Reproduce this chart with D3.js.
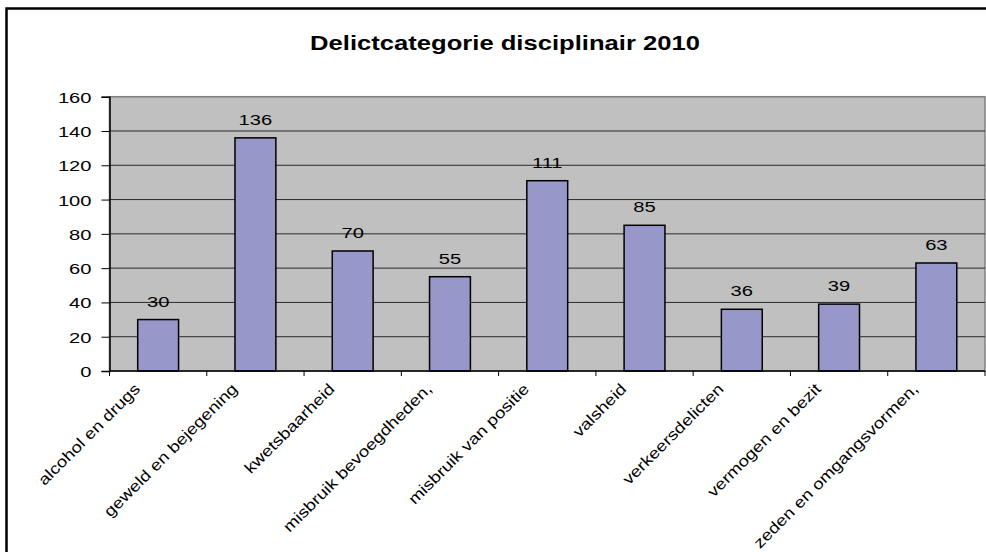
<!DOCTYPE html>
<html>
<head>
<meta charset="utf-8">
<script src="https://cdn.jsdelivr.net/npm/d3@7"></script>
<style>
    body { margin: 0; background: #fff; }
    text { font-family: "Liberation Sans", Arial, sans-serif; fill: #000; }
</style>
</head>
<body>
<div id="chart"></div>
<script>
// chart data
const categories = [
    "alcohol en drugs",
    "geweld en bejegening",
    "kwetsbaarheid",
    "misbruik bevoegdheden,",
    "misbruik van positie",
    "valsheid",
    "verkeersdelicten",
    "vermogen en bezit",
    "zeden en omgangsvormen,"
];
const values = [30, 136, 70, 55, 111, 85, 36, 39, 63];
const yTicks = [0, 20, 40, 60, 80, 100, 120, 140, 160];
const title = "Delictcategorie disciplinair 2010";

// the source picture is stretched sideways, so text is widened
const stretch = 1.3;
const labelStretch = 1.2;

const W = 986, H = 552;
const plot = {left: 109.5, right: 985, top: 96.7, bottom: 371};

const svg = d3.select("#chart")
    .append("svg")
    .attr("width", W)
    .attr("height", H);

// outer chart border (right and bottom fall off the picture)
svg.append("rect")
    .attr("x", 6.5)
    .attr("y", 8.5)
    .attr("width", W + 20)
    .attr("height", H + 20)
    .attr("fill", "#fff")
    .attr("stroke", "#000")
    .attr("stroke-width", 2.5);

// scales
const x = d3.scaleBand()
    .domain(categories)
    .range([plot.left, plot.right])
    .paddingInner(0.58)
    .paddingOuter(0.29);

const xEdges = d3.scaleLinear()
    .domain([0, categories.length])
    .range([plot.left, plot.right]);

const y = d3.scaleLinear()
    .domain([0, 160])
    .range([plot.bottom, plot.top]);

// plot area
svg.append("rect")
    .attr("x", plot.left)
    .attr("y", plot.top)
    .attr("width", plot.right - plot.left)
    .attr("height", plot.bottom - plot.top)
    .attr("fill", "#c0c0c0")
    .attr("stroke", "#808080")
    .attr("stroke-width", 1.5);

// gridlines
svg.append("g")
    .selectAll("line")
    .data(yTicks.slice(1))
    .enter()
    .append("line")
    .attr("x1", plot.left)
    .attr("x2", plot.right)
    .attr("y1", d => y(d))
    .attr("y2", d => y(d))
    .attr("stroke", d => d === 160 ? "#808080" : "#2a2a2a")
    .attr("stroke-width", 1);

// bars
svg.append("g")
    .selectAll("rect")
    .data(values)
    .enter()
    .append("rect")
    .attr("x", (d, i) => x(categories[i]))
    .attr("y", d => y(d))
    .attr("width", x.bandwidth())
    .attr("height", d => y(0) - y(d))
    .attr("fill", "#9797ca")
    .attr("stroke", "#000")
    .attr("stroke-width", 1.5);

// value labels
svg.append("g")
    .selectAll("text")
    .data(values)
    .enter()
    .append("text")
    .attr("transform", (d, i) =>
        `translate(${x(categories[i]) + x.bandwidth() / 2},${y(d) - 13}) scale(${stretch},1)`)
    .attr("text-anchor", "middle")
    .style("font-size", "15.5px")
    .text(d => d);

// y axis
const yAxis = svg.append("g")
    .attr("transform", `translate(${plot.left},0)`)
    .call(d3.axisLeft(y).tickValues(yTicks).tickSize(8).tickPadding(0).tickFormat(d3.format("d")));
yAxis.select(".domain").attr("stroke", "#000").attr("stroke-width", 1.5);
yAxis.selectAll(".tick line").attr("stroke", "#000");
yAxis.selectAll(".tick text")
    .attr("x", null)
    .attr("dy", null)
    .attr("transform", `translate(-18,5.5) scale(${stretch},1)`)
    .style("font-size", "15.5px")
    .attr("text-anchor", "end");

// x axis: ticks at category edges
svg.append("line")
    .attr("x1", plot.left)
    .attr("x2", plot.right)
    .attr("y1", plot.bottom)
    .attr("y2", plot.bottom)
    .attr("stroke", "#000")
    .attr("stroke-width", 1.5);

svg.append("g")
    .selectAll("line")
    .data(d3.range(categories.length + 1))
    .enter()
    .append("line")
    .attr("x1", d => xEdges(d))
    .attr("x2", d => xEdges(d))
    .attr("y1", plot.bottom)
    .attr("y2", plot.bottom + 5)
    .attr("stroke", "#000");

// rotated category labels
svg.append("g")
    .selectAll("text")
    .data(categories)
    .enter()
    .append("text")
    .attr("transform", d =>
        `translate(${x(d) + x.bandwidth() / 2 - 21},386) rotate(-45) scale(${labelStretch},1)`)
    .attr("text-anchor", "end")
    .attr("dy", "0.35em")
    .style("font-size", "15.5px")
    .text(d => d);

// title
svg.append("text")
    .attr("transform", `translate(505,50) scale(1.28,1)`)
    .attr("text-anchor", "middle")
    .style("font-size", "20px")
    .style("font-weight", "bold")
    .text(title);
</script>
</body>
</html>
